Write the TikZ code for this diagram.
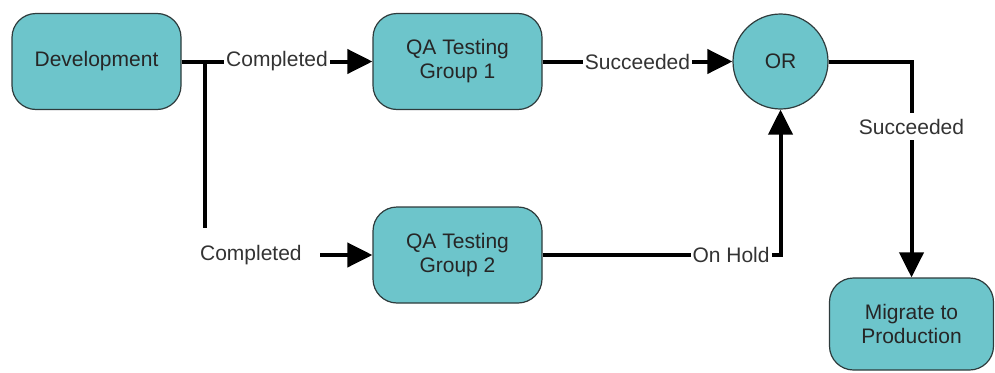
\documentclass[tikz,border=0pt]{standalone}
\usepackage{fontspec}
\setmainfont{Liberation Sans}
\usetikzlibrary{arrows.meta}
\definecolor{boxfill}{HTML}{6DC5CB}
\definecolor{boxline}{HTML}{2E3B3C}
\definecolor{textgray}{HTML}{333333}
\begin{document}
\begin{tikzpicture}[x=1pt,y=-1pt,
  font=\fontsize{21}{24}\selectfont,
  stage/.style={draw=boxline, line width=1.2pt, fill=boxfill, rounded corners=24pt,
    minimum width=169pt, minimum height=96pt, align=center, inner sep=0pt, text=black!85},
  gate/.style={circle, draw=boxline, line width=1.2pt, fill=boxfill,
    minimum size=95pt, inner sep=0pt, text=black!85},
  flow/.style={line width=4pt, -{Triangle[length=25pt,width=24pt]}},
  tag/.style={fill=white, text=textgray, inner xsep=2pt, inner ysep=2pt}
]
\useasboundingbox (0,0) rectangle (995,372);

% process steps
\node[stage] (dev) at (96.5,61.5) {Development};
\node[stage] (qa1) at (457.5,61.5) {QA Testing\\Group 1};
\node[stage] (qa2) at (457.5,255) {QA Testing\\Group 2};
\node[gate]  (or)  at (780.5,61.5) {OR};
\node[stage, minimum width=164pt, minimum height=92pt] (mig) at (911.5,324) {Migrate to\\Production};

% branch point after development
\coordinate (split) at (205,61.5);

% transitions
\draw[flow] (dev.east) -- node[tag]{Completed} (qa1.west);
\draw[flow] (split) |- node[tag, pos=0.637, inner xsep=18pt, inner ysep=17.5pt]{Completed} (qa2.west);
\draw[flow] (qa1.east) -- node[tag]{Succeeded} (or.west);
\draw[flow] (qa2.east) -| node[tag, pos=0.396]{On Hold} (or.south);
\draw[flow] (or.east) -| node[tag, pos=0.651, inner ysep=5.5pt]{Succeeded} (mig.north);
\end{tikzpicture}
\end{document}
